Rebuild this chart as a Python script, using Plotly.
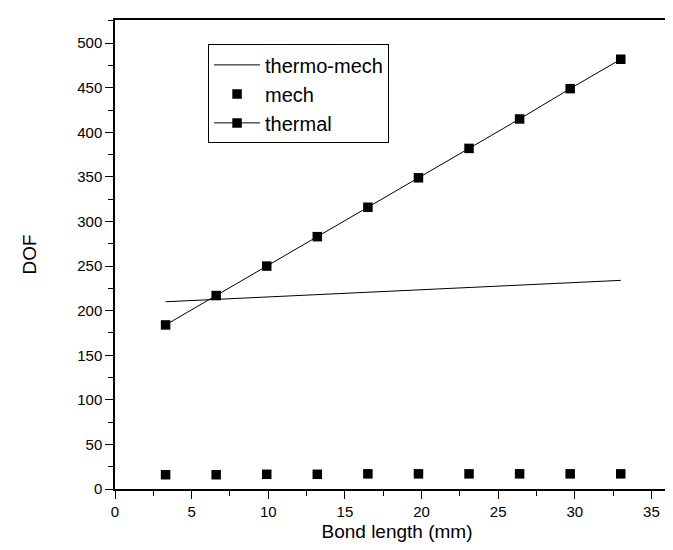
import plotly.graph_objects as go

bond_length = [3.3, 6.6, 9.9, 13.2, 16.5, 19.8, 23.1, 26.4, 29.7, 33.0]
thermal_dof = [184, 217, 250, 283, 316, 349, 382, 415, 449, 482]
mech_dof = [16, 16, 16.5, 16.5, 17, 17, 17, 17, 17, 17]
thermo_mech_x = [3.3, 33.0]
thermo_mech_dof = [210, 234]

FONT = "Liberation Sans, Arial, sans-serif"

fig = go.Figure()
fig.add_trace(go.Scatter(x=thermo_mech_x, y=thermo_mech_dof, mode="lines", name="thermo-mech",
                         line=dict(color="black", width=1)))
fig.add_trace(go.Scatter(x=bond_length, y=mech_dof, mode="markers", name="mech",
                         marker=dict(symbol="square", size=9.5, color="black")))
fig.add_trace(go.Scatter(x=bond_length, y=thermal_dof, mode="lines+markers", name="thermal",
                         line=dict(color="black", width=1),
                         marker=dict(symbol="square", size=9.5, color="black")))

axis_common = dict(showgrid=False, zeroline=False, showline=True, linecolor="black", linewidth=1.5,
                   ticks="outside", ticklen=8, tickwidth=1.2, tickcolor="black",
                   tickfont=dict(family=FONT, size=15, color="black"))

fig.update_xaxes(range=[0, 36.8], dtick=5, tick0=0, mirror=True,
                 minor=dict(dtick=2.5, ticks="outside", ticklen=5, tickcolor="black"),
                 title=dict(text="Bond length (mm)", font=dict(family=FONT, size=19, color="black"),
                            standoff=6),
                 **axis_common)
fig.update_yaxes(range=[0, 526], dtick=50, tick0=0,
                 minor=dict(dtick=25, ticks="outside", ticklen=5, tickcolor="black"),
                 title=dict(text="DOF", font=dict(family=FONT, size=19, color="black"),
                            standoff=36),
                 **axis_common)

fig.update_layout(
    width=673, height=550,
    margin=dict(l=107, r=2, t=12, b=69),
    plot_bgcolor="white", paper_bgcolor="white",
    font=dict(family=FONT, color="black"),
    legend=dict(x=0.165, y=0.948, xanchor="left", yanchor="top",
                bordercolor="black", borderwidth=1, bgcolor="white",
                font=dict(family=FONT, size=20, color="black"),
                tracegroupgap=0, itemwidth=46),
    showlegend=True,
)

fig.write_html("out.html")
